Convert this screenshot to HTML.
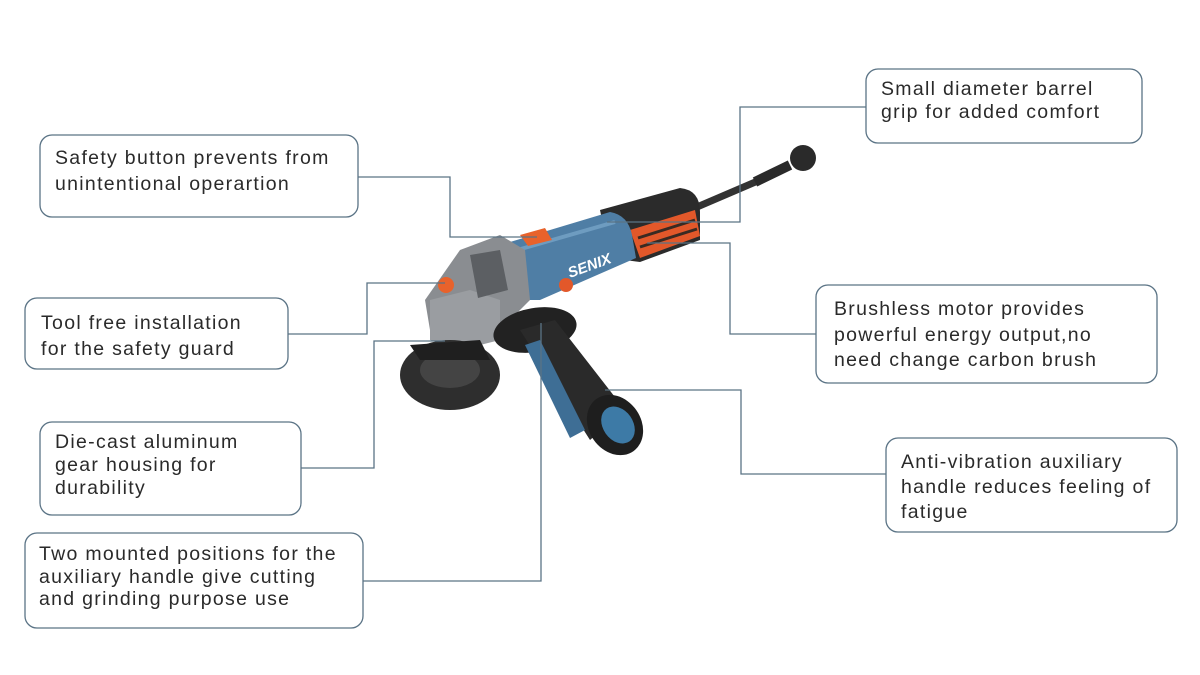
<!DOCTYPE html>
<html><head><meta charset="utf-8"><style>
html,body{margin:0;padding:0;background:#fff}
svg{display:block}
text{font-family:"Liberation Sans",sans-serif;font-size:19.5px;letter-spacing:1.3px;fill:#2a2a2a}
</style></head><body>
<svg width="1200" height="675" viewBox="0 0 1200 675">
<rect width="1200" height="675" fill="#fff"/>
<!-- tool -->
<g>
 <path d="M690 210 L760 180" stroke="#333" stroke-width="7" fill="none"/>
 <path d="M755 182 L790 165" stroke="#2a2a2a" stroke-width="10" fill="none"/>
 <circle cx="803" cy="158" r="13" fill="#2a2a2a"/>
 <path d="M600 210 L680 188 Q700 190 700 212 L700 240 L640 262 L610 258 Z" fill="#2b2b2b"/>
 <path d="M630 230 L695 210 L700 236 L640 258 Z" fill="#e2582a"/>
 <path d="M638 238 L695 220 M640 247 L697 229" stroke="#3a2a22" stroke-width="3"/>
 <path d="M490 248 L610 212 Q628 215 632 235 L636 258 L540 300 L500 300 Z" fill="#4f7ea5"/>
 <path d="M500 255 L615 222" stroke="#6e9cc0" stroke-width="4"/>
 <text x="570" y="278" style="font-size:15px;letter-spacing:0;font-weight:bold;fill:#fff;font-style:italic" transform="rotate(-20 570 278)">SENIX</text>
 <circle cx="566" cy="285" r="7" fill="#e2582a"/>
 <path d="M520 235 L545 228 L552 240 L528 246 Z" fill="#e8622b"/>
 <path d="M460 250 L500 235 L525 250 L530 300 L500 330 L460 340 L430 330 L425 300 Z" fill="#8a8d91"/>
 <path d="M430 300 L470 290 L500 300 L500 340 L460 350 L430 340 Z" fill="#9a9da1"/>
 <path d="M470 255 L500 250 L508 290 L478 298 Z" fill="#5c5f63"/>
 <circle cx="446" cy="285" r="8" fill="#e8622b"/>
 <ellipse cx="450" cy="375" rx="50" ry="35" fill="#2e2e2e"/>
 <ellipse cx="450" cy="370" rx="30" ry="18" fill="#444"/>
 <path d="M410 345 L480 340 L490 360 L420 360 Z" fill="#1f1f1f"/>
 <ellipse cx="535" cy="330" rx="42" ry="22" fill="#222" transform="rotate(-10 535 330)"/>
 <path d="M520 330 L555 320 L625 410 L590 440 Z" fill="#2a2a2a"/>
 <path d="M525 345 L540 340 L585 430 L570 438 Z" fill="#3e6e95"/>
 <ellipse cx="615" cy="425" rx="26" ry="32" fill="#1e1e1e" transform="rotate(-35 615 425)"/>
 <ellipse cx="618" cy="425" rx="15" ry="20" fill="#3d7aa6" transform="rotate(-35 618 425)"/>
</g>
<g stroke="#5a7385" stroke-width="1.3" fill="none">
 <path d="M358 177 H450 V237 H537"/>
 <path d="M866 107 H740 V222 H607"/>
 <path d="M816 334 H730 V243 H647"/>
 <path d="M288 334 H367 V283 H445"/>
 <path d="M301 468 H374 V341 H445"/>
 <path d="M363 581 H541 V323"/>
 <path d="M886 474 H741 V390 H605"/>
</g>
<g stroke="#5a7385" stroke-width="1.3" fill="#fff">
 <rect x="40" y="135" width="318" height="82" rx="12"/>
 <rect x="25" y="298" width="263" height="71" rx="12"/>
 <rect x="40" y="422" width="261" height="93" rx="12"/>
 <rect x="25" y="533" width="338" height="95" rx="12"/>
 <rect x="866" y="69" width="276" height="74" rx="12"/>
 <rect x="816" y="285" width="341" height="98" rx="12"/>
 <rect x="886" y="438" width="291" height="94" rx="12"/>
</g>
<text x="55" y="164">Safety button prevents from</text>
<text x="55" y="190">unintentional operartion</text>
<text x="41" y="329">Tool free installation</text>
<text x="41" y="355">for the safety guard</text>
<text x="55" y="448">Die-cast aluminum</text>
<text x="55" y="471">gear housing for</text>
<text x="55" y="494">durability</text>
<text x="39" y="560">Two mounted positions for the</text>
<text x="39" y="583">auxiliary handle give cutting</text>
<text x="39" y="605">and grinding purpose use</text>
<text x="881" y="95">Small diameter barrel</text>
<text x="881" y="118">grip  for added comfort</text>
<text x="834" y="315">Brushless motor provides</text>
<text x="834" y="341">powerful energy output,no</text>
<text x="834" y="366">need change carbon brush</text>
<text x="901" y="468">Anti-vibration auxiliary</text>
<text x="901" y="493">handle reduces feeling of</text>
<text x="901" y="518">fatigue</text>
</svg>
</body></html>
